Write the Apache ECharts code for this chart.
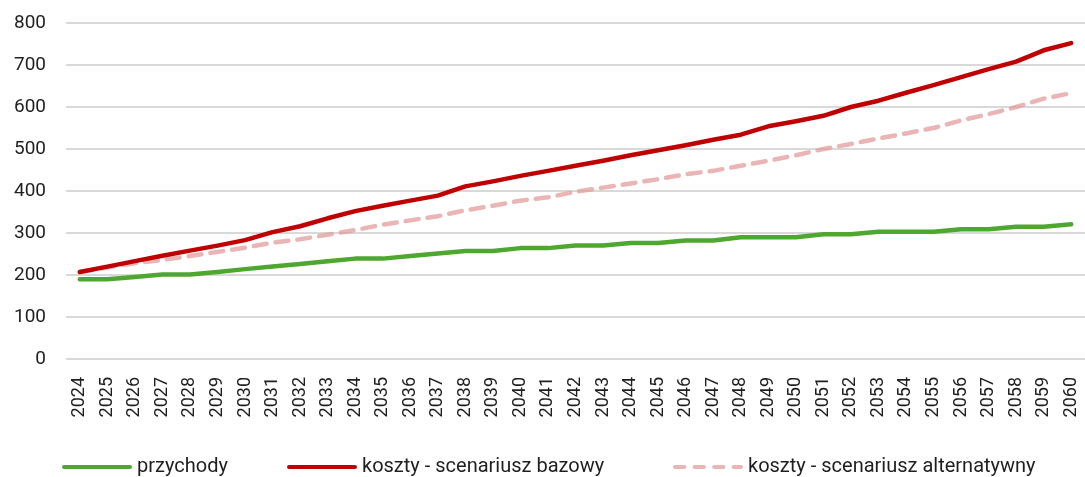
<!DOCTYPE html>
<html>
<head>
<meta charset="utf-8">
<script src="https://cdn.jsdelivr.net/npm/echarts@6/dist/echarts.min.js"></script>
<style>
  html, body { margin: 0; padding: 0; background: #fff; }
  #chart { width: 1085px; height: 477px; }
</style>
</head>
<body>
<div id="chart"></div>
<script>
// lata
let years = [];
for (let y = 2024; y <= 2060; y++) years.push(String(y));

let przychody = [190, 190, 195, 201, 201, 207, 214, 220, 226, 233, 239, 239, 245, 251, 257, 257, 264, 264, 270, 270,
  276, 276, 282, 282, 290, 290, 290, 297, 297, 303, 303, 303, 309, 309, 315, 315, 321];
let kosztyBazowy = [207, 220, 233, 246, 258, 270, 283, 302, 316, 335, 352, 365, 377, 389, 411, 423, 436, 448, 460, 472,
  485, 497, 509, 522, 534, 554, 566, 579, 600, 615, 634, 652, 671, 690, 708, 735, 752];
let kosztyAlternatywny = [207, 218, 228, 236, 245, 255, 265, 277, 285, 296, 307, 320, 330, 340, 354, 365, 377, 385, 398, 408,
  418, 428, 440, 448, 460, 472, 485, 500, 512, 525, 537, 550, 568, 583, 600, 620, 633];

let names = ['przychody', 'koszty - scenariusz bazowy', 'koszty - scenariusz alternatywny'];
let colors = ['#4ea72e', '#c00000', 'rgba(226,152,152,0.72)'];

let chart = echarts.init(document.getElementById('chart'));

let font = 'Roboto, "Noto Sans", sans-serif';

// ikonki legendy: pelna kreska i kreskowana
let solidIcon = 'path://M2,0h64a2,2 0 0 1 0,4h-64a2,2 0 0 1 0,-4z';
let dashIcon = 'path://M2,0h9a2,2 0 0 1 0,4h-9a2,2 0 0 1 0,-4z' +
  'M21,0h9a2,2 0 0 1 0,4h-9a2,2 0 0 1 0,-4z' +
  'M40,0h9a2,2 0 0 1 0,4h-9a2,2 0 0 1 0,-4z' +
  'M59,0h7a2,2 0 0 1 0,4h-7a2,2 0 0 1 0,-4z';

function legendAt(name, left, icon) {
  return {
    data: [{ name: name, icon: icon }],
    left: left,
    top: 454,
    padding: 0,
    itemWidth: 70,
    itemHeight: 5,
    textStyle: { fontFamily: font, fontSize: 20, color: '#1f1f1f', lineHeight: 26 }
  };
}

chart.setOption({
  animation: false,
  grid: { left: 66, top: 23, width: 1024, height: 336, containLabel: false },
  legend: [
    legendAt(names[0], 62, solidIcon),
    legendAt(names[1], 287, solidIcon),
    legendAt(names[2], 673, dashIcon)
  ],
  xAxis: {
    type: 'category',
    data: years,
    boundaryGap: true,
    axisLine: { show: false },
    axisTick: { show: false },
    axisLabel: {
      rotate: 90,
      margin: 18,
      fontFamily: font,
      fontSize: 18,
      color: '#1f1f1f',
      interval: 0
    }
  },
  yAxis: {
    type: 'value',
    min: 0,
    max: 800,
    interval: 100,
    axisLine: { show: false },
    axisTick: { show: false },
    axisLabel: { margin: 20, fontFamily: font, fontSize: 19, color: '#1f1f1f' },
    splitLine: { lineStyle: { color: '#d9d9d9', width: 2 } }
  },
  series: [
    {
      name: names[0],
      type: 'line',
      data: przychody,
      symbol: 'none',
      color: colors[0],
      lineStyle: { width: 4.5, color: colors[0], cap: 'round', join: 'round' }
    },
    {
      name: names[2],
      type: 'line',
      data: kosztyAlternatywny,
      symbol: 'none',
      color: colors[2],
      lineStyle: { width: 4.5, color: colors[2], type: [13, 9], cap: 'round', join: 'round' }
    },
    {
      name: names[1],
      type: 'line',
      data: kosztyBazowy,
      symbol: 'none',
      color: colors[1],
      lineStyle: { width: 4.5, color: colors[1], cap: 'round', join: 'round' }
    }
  ]
});
</script>
</body>
</html>
